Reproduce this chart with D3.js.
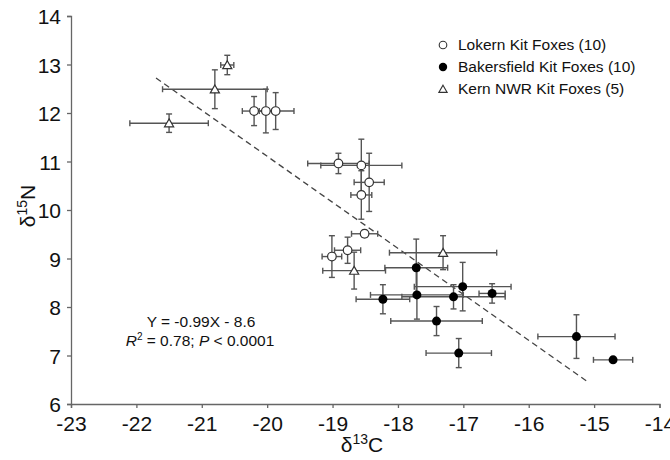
<!DOCTYPE html>
<html>
<head>
<meta charset="utf-8">
<script src="https://d3js.org/d3.v7.min.js"></script>
<style>
  body { margin: 0; background: #fff; }
  svg { font-family: "Liberation Sans", Arial, Helvetica, sans-serif; }
  .tickLabels { font-size: 21px; fill: #111; }
  .legendText { font-size: 15.5px; fill: #111; }
  .eqText { font-size: 15.5px; fill: #111; }
</style>
</head>
<body>
<svg id="svg-scatter" width="670" height="460"></svg>
<script>
// Lokern Kit Foxes (open circles)
var lokernX    = [-20.20, -20.02, -19.87, -18.91, -18.56, -18.56, -18.44, -18.51, -18.77, -19.01];
var lokernY    = [12.04, 12.04, 12.04, 10.96, 10.92, 10.31, 10.57, 9.51, 9.17, 9.04];
var lokernXErr = [0.18, 0.10, 0.28, 0.47, 0.62, 0.16, 0.23, 0.20, 0.20, 0.15];
var lokernYErr = [0.30, 0.45, 0.38, 0.21, 0.54, 0.50, 0.60, 0.07, 0.27, 0.43];

// Bakersfield Kit Foxes (filled circles)
var bakersX    = [-17.72, -17.71, -18.23, -17.15, -17.01, -16.56, -17.41, -17.07, -15.27, -14.71];
var bakersY    = [8.81, 8.25, 8.16, 8.21, 8.42, 8.28, 7.71, 7.05, 7.39, 6.91];
var bakersXErr = [0.48, 0.71, 0.41, 0.79, 0.74, 0.20, 0.70, 0.50, 0.59, 0.30];
var bakersYErr = [0.59, 0.50, 0.30, 0.25, 0.50, 0.20, 0.30, 0.30, 0.45, 0.05];

// Kern NWR Kit Foxes (triangles)
var kernX    = [-21.50, -20.80, -20.61, -18.67, -17.31];
var kernY    = [11.79, 12.49, 12.99, 8.75, 9.12];
var kernXErr = [0.60, 0.80, 0.10, 0.48, 0.82];
var kernYErr = [0.19, 0.40, 0.20, 0.38, 0.35];

// regression line end points (x, y)
var fitX = [-21.70, -15.08];
var fitY = [12.72, 6.44];

var xTicks = [-23, -22, -21, -20, -19, -18, -17, -16, -15, -14];
var yTicks = [6, 7, 8, 9, 10, 11, 12, 13, 14];

var legendLabels = ["Lokern Kit Foxes (10)", "Bakersfield Kit Foxes (10)", "Kern NWR Kit Foxes (5)"];

var svg = d3.select("#svg-scatter");
var axisColor = "#666";
var barColor = "#555";

var xScale = d3.scaleLinear().domain([-23, -14]).range([71, 659.5]);
var yScale = d3.scaleLinear().domain([6, 14]).range([404, 16]);

// helper that zips the arrays into point objects
function makePoints(xs, ys, xe, ye) {
  return xs.map(function(d, i) {
    return { x: d, y: ys[i], xe: xe[i], ye: ye[i] };
  });
}
var series = [
  { name: "lokern", pts: makePoints(lokernX, lokernY, lokernXErr, lokernYErr) },
  { name: "bakers", pts: makePoints(bakersX, bakersY, bakersXErr, bakersYErr) },
  { name: "kern",   pts: makePoints(kernX, kernY, kernXErr, kernYErr) }
];

// Axes (left and bottom only)
var xAxis = d3.axisBottom(xScale).tickValues(xTicks).tickSize(4).tickPadding(8).tickFormat(d3.format("d"));
var yAxis = d3.axisLeft(yScale).tickValues(yTicks).tickSize(4).tickPadding(6).tickFormat(d3.format("d"));

var gx = svg.append("g").attr("transform", "translate(0," + yScale(6) + ")").call(xAxis);
var gy = svg.append("g").attr("transform", "translate(" + xScale(-23) + ",0)").call(yAxis);
[gx, gy].forEach(function(g) {
  g.selectAll("path, line").attr("stroke", axisColor).attr("stroke-width", 1.3);
  g.selectAll("text").attr("class", "tickLabels").attr("font-family", null).attr("font-size", null)
   .text(function(d) { return d < 0 ? "-" + Math.abs(d) : d; });
});
gy.selectAll("text").attr("dy", "0.36em");

// Axis titles
var xt = svg.append("text").attr("x", 362).attr("y", 452).attr("text-anchor", "middle").attr("font-size", 21).attr("fill", "#111");
xt.append("tspan").text("δ");
xt.append("tspan").attr("font-size", 14).attr("dy", -8).text("13");
xt.append("tspan").attr("dy", 8).text("C");

var yt = svg.append("text").attr("transform", "translate(35,206) rotate(-90)").attr("text-anchor", "middle").attr("font-size", 21).attr("fill", "#111");
yt.append("tspan").text("δ");
yt.append("tspan").attr("font-size", 14).attr("dy", -8).text("15");
yt.append("tspan").attr("dy", 8).text("N");

// Dashed regression line
svg.append("line")
   .attr("x1", xScale(fitX[0])).attr("y1", yScale(fitY[0]))
   .attr("x2", xScale(fitX[1])).attr("y2", yScale(fitY[1]))
   .attr("stroke", "#444").attr("stroke-width", 1.3)
   .attr("stroke-dasharray", "6,4");

// Error bars for all series
var cap = 3;
series.forEach(function(s) {
  var g = svg.append("g").attr("class", "err-" + s.name)
             .attr("stroke", barColor).attr("stroke-width", 1.4);
  s.pts.forEach(function(d) {
    var x0 = xScale(d.x - d.xe), x1 = xScale(d.x + d.xe);
    var y0 = yScale(d.y - d.ye), y1 = yScale(d.y + d.ye);
    var cx = xScale(d.x), cy = yScale(d.y);
    g.append("line").attr("x1", x0).attr("x2", x1).attr("y1", cy).attr("y2", cy);
    g.append("line").attr("x1", x0).attr("x2", x0).attr("y1", cy - cap).attr("y2", cy + cap);
    g.append("line").attr("x1", x1).attr("x2", x1).attr("y1", cy - cap).attr("y2", cy + cap);
    g.append("line").attr("x1", cx).attr("x2", cx).attr("y1", y0).attr("y2", y1);
    g.append("line").attr("x1", cx - cap).attr("x2", cx + cap).attr("y1", y0).attr("y2", y0);
    g.append("line").attr("x1", cx - cap).attr("x2", cx + cap).attr("y1", y1).attr("y2", y1);
  });
});

// Markers
var triangle = d3.symbol().type(d3.symbolTriangle).size(36);

svg.selectAll("lokernPts")
   .data(series[0].pts)
   .enter()
   .append("circle")
   .attr("cx", function(d) { return xScale(d.x); })
   .attr("cy", function(d) { return yScale(d.y); })
   .attr("r", 4.3)
   .attr("fill", "#fff").attr("stroke", "#333").attr("stroke-width", 1.2);

svg.selectAll("bakersPts")
   .data(series[1].pts)
   .enter()
   .append("circle")
   .attr("cx", function(d) { return xScale(d.x); })
   .attr("cy", function(d) { return yScale(d.y); })
   .attr("r", 4.5)
   .attr("fill", "#000");

svg.selectAll("kernPts")
   .data(series[2].pts)
   .enter()
   .append("path")
   .attr("d", triangle)
   .attr("transform", function(d) { return "translate(" + xScale(d.x) + "," + (yScale(d.y) + 1) + ")"; })
   .attr("fill", "#fff").attr("stroke", "#333").attr("stroke-width", 1.2);

// Legend
var legendX = 443, legendY = [45, 67, 89];
var lg = svg.append("g");
lg.append("circle").attr("cx", legendX).attr("cy", legendY[0]).attr("r", 3.8)
  .attr("fill", "#fff").attr("stroke", "#333").attr("stroke-width", 1.1);
lg.append("circle").attr("cx", legendX).attr("cy", legendY[1]).attr("r", 4.2).attr("fill", "#000");
lg.append("path").attr("d", d3.symbol().type(d3.symbolTriangle).size(30))
  .attr("transform", "translate(" + legendX + "," + (legendY[2] + 1) + ")")
  .attr("fill", "#fff").attr("stroke", "#333").attr("stroke-width", 1.1);
lg.selectAll("legendText")
  .data(legendLabels)
  .enter()
  .append("text")
  .attr("class", "legendText")
  .attr("x", legendX + 15)
  .attr("y", function(d, i) { return legendY[i] + 5; })
  .text(function(d) { return d; });

// Regression equation
svg.append("text").attr("class", "eqText").attr("x", 201).attr("y", 327).attr("text-anchor", "middle")
   .text("Y = -0.99X - 8.6");
var eq2 = svg.append("text").attr("class", "eqText").attr("x", 200).attr("y", 346).attr("text-anchor", "middle");
eq2.append("tspan").attr("font-style", "italic").text("R");
eq2.append("tspan").attr("font-size", 10).attr("dy", -6).text("2");
eq2.append("tspan").attr("dy", 6).text(" = 0.78; ");
eq2.append("tspan").attr("font-style", "italic").text("P");
eq2.append("tspan").text(" < 0.0001");
</script>
</body>
</html>
